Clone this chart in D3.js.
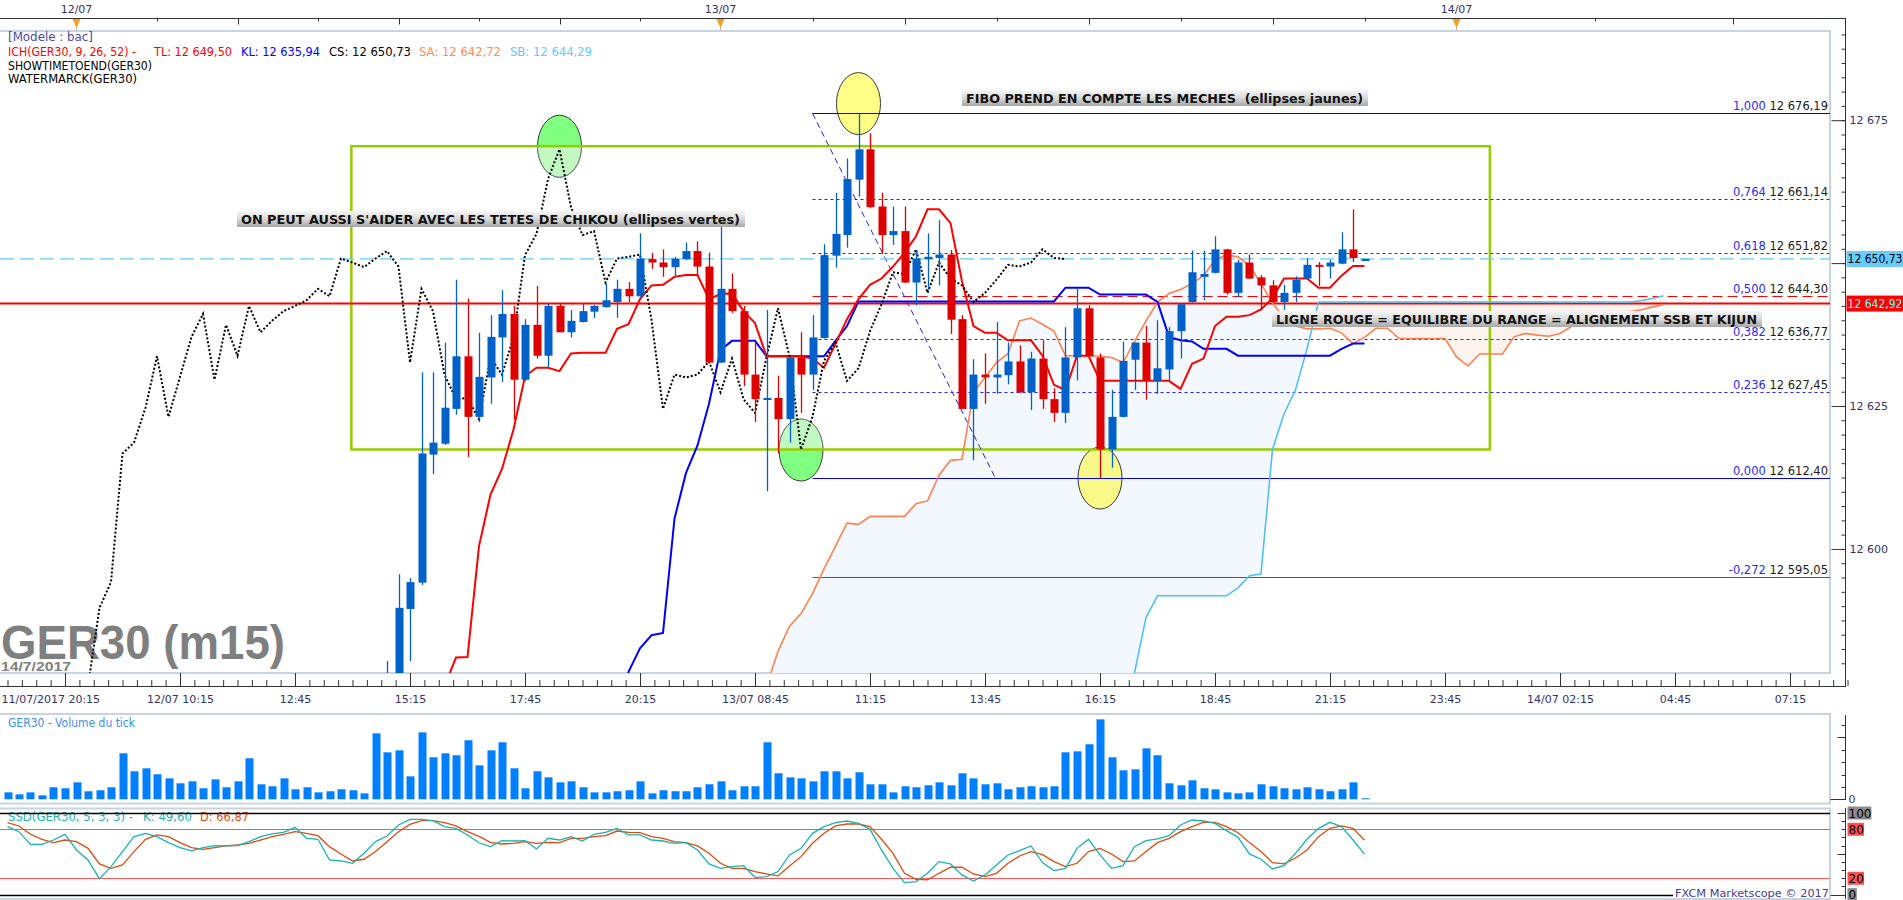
<!DOCTYPE html>
<html>
<head>
<meta charset="utf-8">
<title>GER30 (m15)</title>
<script src="https://cdnjs.cloudflare.com/ajax/libs/d3/7.8.5/d3.min.js"></script>
<style>
  body { margin: 0; background: #fff; overflow: hidden; }
  svg { display: block; font-family: "DejaVu Sans", Verdana, sans-serif; }
</style>
</head>
<body>
<div id="chart"></div>
<script>
// values (15 min bars, bar 0 = 11/07 20:15)

// candles, first one is bar 28 (earlier ones sit below the visible price range)
var firstCandle = 28;
var opens = [
  12562, 12575, 12589.5, 12594.1, 12616.5, 12618.4, 12624.5, 12633.7, 12623.1, 12630.0,
  12637.0, 12641.1, 12629.6, 12639.2, 12633.8, 12642.5, 12637.9, 12639.7, 12641.5, 12642.3,
  12643.2, 12645.5, 12644.2, 12650.7, 12650.1, 12649.3, 12650.7, 12652.1, 12649.4, 12632.6,
  12645.5, 12641.6, 12630.5, 12626.2, 12626.4, 12622.7, 12633.5, 12630.5, 12636.9, 12651.3,
  12654.9, 12664.6, 12669.9, 12659.9, 12654.9, 12655.6, 12646.6, 12650.7, 12650.9, 12651.5,
  12640.2, 12624.5, 12630.5, 12630.0, 12630.4, 12632.8, 12627.4, 12633.3, 12626.2, 12623.8,
  12633.5, 12642.1, 12633.5, 12617.4, 12623.1, 12633.1, 12636.1, 12629.4, 12631.4, 12638.1,
  12643.2, 12647.6, 12648.3, 12652.4, 12644.8, 12650.1, 12647.5, 12646.1, 12643.2, 12644.8,
  12647.3, 12649.7, 12649.4, 12649.9, 12652.4, 12650.73
];
var highs = [
  12580.4, 12595.6, 12594.9, 12630.9, 12630.9, 12636.1, 12647.1, 12643.8, 12637.8, 12640.9,
  12645.3, 12642.5, 12640.2, 12646.0, 12643.0, 12643.0, 12641.8, 12643.0, 12642.7, 12646.4,
  12647.1, 12646.7, 12655.2, 12651.8, 12652.4, 12651.1, 12653.6, 12653.8, 12651.8, 12656.3,
  12648.2, 12642.5, 12636.1, 12641.8, 12630.3, 12633.5, 12637.9, 12640.9, 12653.3, 12662.3,
  12668.3, 12676.19, 12672.7, 12662.3, 12659.9, 12659.9, 12652.3, 12655.2, 12657.5, 12652.3,
  12640.9, 12633.2, 12634.2, 12639.7, 12636.1, 12635.6, 12634.5, 12636.5, 12628.1, 12638.8,
  12645.5, 12642.6, 12634.2, 12627.8, 12636.3, 12636.1, 12639.0, 12640.0, 12638.8, 12642.8,
  12652.2, 12652.2, 12654.7, 12652.5, 12650.6, 12651.5, 12647.9, 12647.0, 12646.2, 12647.7,
  12650.8, 12650.2, 12650.6, 12655.4, 12659.4, 12650.73
];
var lows = [
  12558, 12572, 12580.4, 12593.7, 12613.1, 12618.2, 12623.5, 12616.1, 12622.2, 12625.4,
  12629.2, 12622.6, 12629.4, 12633.3, 12631.7, 12637.9, 12637.0, 12639.6, 12640.4, 12642.2,
  12640.4, 12643.2, 12644.1, 12649.0, 12647.6, 12647.8, 12650.5, 12647.8, 12632.4, 12632.5,
  12641.3, 12628.5, 12622.2, 12610.1, 12616.7, 12618.6, 12623.8, 12627.8, 12636.8, 12649.2,
  12652.7, 12661.6, 12659.6, 12651.6, 12653.2, 12646.5, 12642.6, 12645.3, 12646.1, 12637.6,
  12624.5, 12615.5, 12625.4, 12627.1, 12628.8, 12627.3, 12624.3, 12624.5, 12622.2, 12622.0,
  12629.5, 12633.7, 12612.4, 12614.2, 12623.0, 12627.8, 12626.1, 12627.1, 12629.4, 12633.3,
  12643.1, 12643.5, 12648.2, 12644.5, 12644.0, 12647.2, 12641.8, 12643.0, 12641.8, 12643.2,
  12647.2, 12646.0, 12647.3, 12649.8, 12650.2, 12650.73
];
var closes = [
  12576, 12589.7, 12594.2, 12616.7, 12618.6, 12624.7, 12633.7, 12623.1, 12630.1, 12637.1,
  12641.1, 12629.6, 12639.2, 12633.8, 12642.5, 12637.9, 12639.9, 12641.6, 12642.5, 12643.5,
  12645.5, 12644.2, 12650.8, 12650.1, 12649.3, 12650.8, 12652.1, 12649.4, 12632.6, 12645.5,
  12641.6, 12630.5, 12626.2, 12626.4, 12622.7, 12633.5, 12630.5, 12637.0, 12651.4, 12655.1,
  12664.7, 12669.9, 12659.8, 12654.9, 12655.6, 12646.6, 12650.8, 12651.1, 12651.5, 12640.1,
  12624.5, 12630.5, 12630.0, 12630.5, 12632.8, 12627.4, 12633.3, 12626.2, 12623.8, 12633.5,
  12642.1, 12633.7, 12617.4, 12623.1, 12632.9, 12636.1, 12629.4, 12631.6, 12638.1, 12642.8,
  12648.4, 12648.1, 12652.4, 12644.8, 12650.1, 12647.3, 12646.1, 12643.2, 12644.8, 12647.1,
  12649.7, 12649.4, 12650.1, 12652.4, 12650.9, 12650.73
];

// ichimoku lines
var tenkanStart = 32;
var tenkan = [
  12570, 12576, 12581.0, 12581.1, 12600.5, 12609.5, 12614.0, 12620.9, 12630.2, 12631.7,
  12631.7, 12631.1, 12634.2, 12634.3, 12634.3, 12634.3, 12638.5, 12639.3, 12643.7, 12646.1,
  12646.2, 12647.6, 12647.9, 12647.9, 12643.7, 12644.6, 12644.7, 12641.6, 12639.5, 12633.7,
  12633.7, 12633.7, 12633.7, 12633.3, 12631.7, 12635.9, 12640.2, 12643.7, 12646.2, 12647.3,
  12649.4, 12651.8, 12654.7, 12659.4, 12659.4, 12657.0, 12646.8, 12639.0, 12637.8, 12637.8,
  12636.5, 12636.5, 12636.5, 12633.8, 12628.7, 12627.8, 12633.8, 12633.8, 12629.4, 12629.4,
  12629.4, 12629.4, 12629.4, 12629.4, 12629.4, 12628.0, 12632.4, 12633.3, 12639.0, 12640.6,
  12640.6, 12640.9, 12641.9, 12643.9, 12647.3, 12647.3, 12647.3, 12645.7, 12645.7, 12647.8,
  12649.5, 12649.5
];
var kijunStart = 48;
var kijun = [
  12570, 12578.5, 12582.6, 12584.9, 12585.3, 12605.3, 12613.3, 12618.1, 12625.4, 12634.8,
  12636.4, 12636.4, 12636.4, 12633.7, 12633.7, 12633.7, 12633.7, 12633.7, 12633.7, 12636.4,
  12639.0, 12643.3, 12643.3, 12643.3, 12643.3, 12643.3, 12643.3, 12643.3, 12643.3, 12643.3,
  12643.3, 12643.3, 12643.3, 12643.3, 12643.3, 12643.3, 12643.3, 12643.3, 12643.3, 12645.7,
  12645.7, 12645.7, 12644.5, 12644.5, 12644.5, 12644.5, 12644.5, 12643.2, 12637.1, 12636.5,
  12636.3, 12635.0, 12635.0, 12635.0, 12633.8, 12633.8, 12633.8, 12633.8, 12633.8, 12633.8,
  12633.8, 12633.8, 12633.8, 12635.0, 12635.94, 12635.94
];
// senkou spans (already shifted 26 bars ahead), first value is bar 60
var cloudStart = 60;
var senkouA = [
  12570, 12576, 12582.1, 12586.5, 12588.7, 12592.2, 12596.5, 12600.5, 12604.5, 12604.3,
  12605.7, 12605.7, 12605.7, 12605.7, 12607.9, 12608.4, 12612.9, 12615.5, 12615.7, 12627.5,
  12630.0, 12632.6, 12634.2, 12639.9, 12640.4, 12639.3, 12638.1, 12633.8, 12633.8, 12633.8,
  12633.7, 12633.5, 12632.6, 12636.3, 12639.9, 12643.2, 12644.7, 12645.4, 12646.4, 12647.8,
  12650.6, 12651.4, 12651.1, 12649.6, 12646.4, 12643.0, 12640.5, 12639.0, 12638.5, 12638.5,
  12638.6, 12637.8, 12635.9, 12637.0, 12638.6, 12638.6, 12636.8, 12636.8, 12636.8, 12636.8,
  12636.8, 12633.6, 12632.0, 12634.1, 12634.1, 12634.1, 12637.1, 12637.7, 12637.4, 12637.2,
  12637.7, 12638.9, 12639.5, 12640.0, 12640.5, 12641.0, 12641.5, 12641.8, 12642.3, 12642.72
];
var senkouB = [
  12555, 12555, 12555, 12555, 12555, 12555, 12555, 12555, 12555, 12555,
  12555, 12555, 12555, 12555, 12555, 12555, 12555, 12555, 12555, 12555,
  12555, 12555, 12555, 12555, 12555, 12555, 12555, 12555, 12555, 12555,
  12558, 12560, 12566, 12578.3, 12588.0, 12591.8, 12591.8, 12591.8, 12591.8, 12591.8,
  12591.8, 12591.8, 12593.2, 12595.3, 12595.6, 12617.4, 12623.6, 12627.8, 12635.0, 12643.2,
  12643.2, 12643.2, 12643.2, 12643.2, 12643.2, 12643.2, 12643.2, 12643.2, 12643.2, 12643.2,
  12643.2, 12643.2, 12643.2, 12643.2, 12643.2, 12643.2, 12643.2, 12643.2, 12643.2, 12643.2,
  12643.2, 12643.2, 12643.2, 12643.2, 12643.2, 12643.2, 12643.2, 12643.4, 12643.8, 12644.29
];

// tick volume and slow stochastic, first value is bar -5
var firstBar = -5;
var volumes = [
  56, 40, 56, 32, 97, 89, 137, 65, 73, 97,
  371, 226, 250, 202, 169, 129, 145, 89, 161, 97,
  145, 331, 121, 105, 169, 81, 97, 56, 65, 81,
  73, 48, 532, 379, 395, 185, 540, 339, 371, 355,
  476, 274, 395, 460, 250, 89, 226, 177, 137, 145,
  97, 56, 56, 65, 73, 145, 48, 73, 65, 65,
  97, 121, 145, 73, 105, 105, 460, 210, 177, 169,
  145, 226, 226, 169, 218, 121, 121, 56, 105, 97,
  113, 137, 113, 210, 169, 121, 129, 81, 97, 105,
  97, 105, 379, 387, 444, 645, 339, 234, 242, 411,
  355, 129, 113, 153, 89, 81, 56, 48, 56, 121,
  105, 89, 81, 97, 81, 65, 81, 137, 3
];
var stochK = [
  83.3, 77.1, 61.6, 61.6, 66.9, 73.9, 54.7, 42.4, 19.2, 34.3,
  52.7, 71.0, 75.1, 71.0, 63.7, 57.6, 53.5, 57.6, 60.0, 59.6,
  60.0, 64.9, 71.0, 74.3, 76.3, 82.4, 69.0, 67.8, 42.4, 41.2,
  38.4, 50.6, 64.9, 71.8, 85.3, 92.2, 92.2, 90.6, 83.3, 81.2,
  73.1, 63.5, 58.8, 66.1, 65.7, 66.1, 55.9, 69.0, 66.9, 71.0,
  65.7, 73.9, 76.3, 81.2, 73.1, 73.1, 66.9, 65.7, 62.9, 63.7,
  54.7, 37.6, 32.2, 34.3, 35.5, 21.2, 22.0, 28.2, 48.6, 56.7,
  75.1, 83.3, 88.2, 90.2, 87.3, 80.0, 54.7, 32.2, 14.7, 15.9,
  26.1, 40.4, 37.6, 24.1, 16.7, 24.1, 36.3, 48.6, 53.9, 59.6,
  39.2, 29.4, 32.2, 56.7, 67.8, 48.6, 32.2, 35.5, 58.8, 66.1,
  68.2, 72.2, 85.3, 91.4, 90.2, 87.3, 78.4, 70.2, 49.8, 43.3,
  31.4, 35.5, 50.6, 67.8, 81.2, 88.6, 83.3, 66.9, 49.6
];
var stochD = [
  88.2, 84.1, 73.9, 67.8, 63.7, 66.9, 64.9, 56.7, 37.6, 32.2,
  36.3, 52.7, 67.8, 73.1, 71.0, 63.7, 57.6, 55.5, 57.6, 59.6,
  60.8, 62.9, 66.9, 71.0, 73.9, 77.1, 75.1, 72.2, 58.8, 49.8,
  41.2, 43.3, 52.7, 64.9, 77.1, 86.1, 90.6, 90.6, 88.2, 84.1,
  77.1, 71.4, 64.1, 62.0, 62.9, 64.9, 62.9, 64.1, 63.7, 69.0,
  69.0, 71.0, 72.2, 77.9, 76.3, 75.9, 71.0, 69.0, 64.9, 63.7,
  59.6, 50.6, 38.4, 32.2, 32.2, 28.2, 25.3, 22.9, 35.1, 46.5,
  62.9, 75.1, 84.1, 86.5, 86.5, 83.3, 67.8, 50.6, 26.1, 18.8,
  18.0, 26.1, 33.5, 33.5, 25.3, 22.0, 26.1, 38.4, 47.3, 52.7,
  49.0, 40.4, 34.3, 38.4, 52.7, 56.7, 49.8, 40.4, 41.2, 52.7,
  63.7, 69.0, 77.1, 83.3, 88.6, 88.6, 83.3, 75.9, 63.7, 52.7,
  39.2, 37.6, 44.9, 54.7, 71.0, 81.2, 84.1, 81.2, 66.87
];

// fibonacci retracement drawn on the chart
var fibRatios = ["1,000", "0,764", "0,618", "0,500", "0,382", "0,236", "0,000", "-0,272"];
var fibPrices = [12676.19, 12661.14, 12651.82, 12644.30, 12636.77, 12627.45, 12612.40, 12595.05];
var rangeLine = 12642.92;

// time axis
var timeLabels = ["11/07/2017 20:15", "12/07 10:15", "12:45", "15:15", "17:45", "20:15", "13/07 08:45",
  "11:15", "13:45", "16:15", "18:45", "21:15", "23:45", "14/07 02:15", "04:45", "07:15"];
var timeLabelBars = [0, 10, 20, 30, 40, 50, 60, 70, 80, 90, 100, 110, 120, 130, 140, 150];
var dayLabels = ["12/07", "13/07", "14/07"];
var dayBars = [1, 57, 121];
var topTickBars = [8, 15, 22, 29, 36, 43, 50, 65, 73, 81, 89, 97, 105, 113, 133, 145];
var priceMajor = [12600, 12625, 12650, 12675];

// ---------------- layout ----------------
var W = 1903, H = 900;
var plotRight = 1830, axisX = 1845.5;
var mainTop = 31, mainBottom = 673;

var fr = d3.formatLocale({decimal: ",", thousands: " ", grouping: [3], currency: ["", ""]});
var fmt2 = fr.format(",.2f"), fmt0 = fr.format(",.0f");
var last = function(a) { return a[a.length - 1]; };

var svg = d3.select("#chart").append("svg")
    .attr("width", W)
    .attr("height", H);

var x = d3.scaleLinear().domain([0, 150]).range([65, 1790]);
var y = d3.scaleLinear().domain([12578.3, 12690.6]).range([mainBottom, mainTop]);
var yVol = d3.scaleLinear().domain([0, 680]).range([799.3, 715]);
var ySto = d3.scaleLinear().domain([0, 100]).range([894.6, 813]);

var defs = svg.append("defs");
defs.append("clipPath").attr("id", "clipMain").append("rect")
  .attr("x", 0).attr("y", mainTop).attr("width", plotRight).attr("height", mainBottom - mainTop);
// the green range box, in bars / prices
var box = {i0: 24.9, i1: 123.9, p0: 12617.4, p1: 12670.45};
defs.append("clipPath").attr("id", "clipBox").append("rect")
  .attr("x", x(box.i0)).attr("y", y(box.p1))
  .attr("width", x(box.i1) - x(box.i0)).attr("height", y(box.p0) - y(box.p1));
var grad = defs.append("linearGradient").attr("id", "noteBg")
  .attr("x1", 0).attr("y1", 0).attr("x2", 0).attr("y2", 1);
grad.append("stop").attr("offset", "0%").attr("stop-color", "#f6f6f6");
grad.append("stop").attr("offset", "50%").attr("stop-color", "#d9d9d9");
grad.append("stop").attr("offset", "100%").attr("stop-color", "#a6a6a6");

// small helper for fitted labels
function label(g, tx, ty, str, size, color, len) {
  var t = g.append("text").attr("x", tx).attr("y", ty)
    .attr("font-size", size).attr("fill", color).text(str);
  if (len) t.attr("textLength", len).attr("lengthAdjust", "spacingAndGlyphs");
  return t;
}

// panel frames
function frame(y0, y1) {
  svg.append("rect")
    .attr("x", -2).attr("y", y0)
    .attr("width", plotRight + 2).attr("height", y1 - y0)
    .attr("fill", "none").attr("stroke", "#c9d3df").attr("stroke-width", 2);
}
frame(mainTop, mainBottom);
frame(714, 803.5);
frame(808.5, 899);

var gMain = svg.append("g").attr("clip-path", "url(#clipMain)");

// watermark
gMain.append("text").attr("x", 1).attr("y", 659)
  .attr("font-family", "'Liberation Sans', Arial, sans-serif").attr("font-weight", "bold")
  .attr("font-size", 48).attr("fill", "#7f7f7f")
  .attr("textLength", 284).attr("lengthAdjust", "spacingAndGlyphs")
  .text("GER30 (m15)");
gMain.append("text").attr("x", 1).attr("y", 671)
  .attr("font-family", "'Liberation Sans', Arial, sans-serif").attr("font-weight", "bold")
  .attr("font-size", 13).attr("fill", "#7f7f7f")
  .attr("textLength", 70).attr("lengthAdjust", "spacingAndGlyphs")
  .text("14/7/2017");

// kumo
var cloud = senkouA.map(function(a, k) { return {i: cloudStart + k, a: a, b: senkouB[k]}; });
gMain.append("path").datum(cloud)
  .attr("fill", "#f2f8fd")
  .attr("d", d3.area()
    .x(function(d) { return x(d.i); })
    .y0(function(d) { return y(d.b); })
    .y1(function(d) { return y(Math.max(d.a, d.b)); }));
gMain.append("path").datum(cloud)
  .attr("fill", "#fdf3ee")
  .attr("d", d3.area()
    .x(function(d) { return x(d.i); })
    .y0(function(d) { return y(d.a); })
    .y1(function(d) { return y(Math.max(d.a, d.b)); }));

// ellipses (chikou heads in green, fibo wicks in yellow)
var ellipses = [
  {i: 43, p: 12670.45, fill: "#80ff80"},
  {i: 64, p: 12617.3, fill: "#80ff80"},
  {i: 69, p: 12677.9, fill: "#ffff85"},
  {i: 90, p: 12612.4, fill: "#f8f888"}
];
gMain.selectAll(".ell").data(ellipses).enter().append("ellipse")
  .attr("cx", function(d) { return x(d.i); })
  .attr("cy", function(d) { return y(d.p); })
  .attr("rx", 22).attr("ry", 31)
  .attr("fill", function(d) { return d.fill; })
  .attr("stroke", "#3a3a3a").attr("stroke-width", 1);
gMain.append("g").attr("clip-path", "url(#clipBox)")
  .selectAll("ellipse").data(ellipses.slice(0, 2)).enter().append("ellipse")
  .attr("cx", function(d) { return x(d.i); })
  .attr("cy", function(d) { return y(d.p); })
  .attr("rx", 22).attr("ry", 31)
  .attr("fill", "#c2f8c2")
  .attr("stroke", "#777").attr("stroke-width", 1);

// the range box
gMain.append("rect")
  .attr("x", x(box.i0)).attr("y", y(box.p1))
  .attr("width", x(box.i1) - x(box.i0)).attr("height", y(box.p0) - y(box.p1))
  .attr("fill", "none").attr("stroke", "#99cc00").attr("stroke-width", 2.5);

// fibonacci levels
var fibStyle = [
  {c: "#0000dd", dash: null}, {c: "#2222ee", dash: "3,3"}, {c: "#2222ee", dash: "3,3"},
  {c: "#ff0000", dash: "10,5"}, {c: "#2222ee", dash: "3,3"}, {c: "#2222ee", dash: "3,3"},
  {c: "#0000dd", dash: null}, {c: "#a0400a", dash: null}
];
var fibFrom = 65;
fibPrices.forEach(function(p, k) {
  gMain.append("line")
    .attr("x1", x(fibFrom)).attr("x2", plotRight)
    .attr("y1", Math.round(y(p)) + 0.5).attr("y2", Math.round(y(p)) + 0.5)
    .attr("stroke", fibStyle[k].c).attr("stroke-width", 1)
    .attr("stroke-dasharray", fibStyle[k].dash);
  var t = gMain.append("text")
    .attr("x", plotRight - 2).attr("y", y(p) - 3)
    .attr("text-anchor", "end").attr("font-size", 11.5);
  t.append("tspan").attr("fill", "#2a2af0").text(fibRatios[k] + " ");
  t.append("tspan").attr("fill", "#1a1a1a").text(fmt2(p));
});
// fibo swing, high wick to low wick
gMain.append("line")
  .attr("x1", x(fibFrom)).attr("y1", y(fibPrices[0]))
  .attr("x2", x(80.9)).attr("y2", y(fibPrices[6]))
  .attr("stroke", "#2222ee").attr("stroke-width", 1).attr("stroke-dasharray", "6,4");

// current price and range line
gMain.append("line")
  .attr("x1", 0).attr("x2", plotRight)
  .attr("y1", y(last(closes))).attr("y2", y(last(closes)))
  .attr("stroke", "#66ccff").attr("stroke-width", 1.2).attr("stroke-dasharray", "14,6");
gMain.append("line")
  .attr("x1", 0).attr("x2", plotRight)
  .attr("y1", y(rangeLine)).attr("y2", y(rangeLine))
  .attr("stroke", "#ff0000").attr("stroke-width", 2);

// ichimoku lines
function seriesLine(values, start) {
  return d3.line()
    .x(function(d, k) { return x(start + k); })
    .y(function(d) { return y(d); })(values);
}
gMain.append("path").attr("d", seriesLine(senkouA, cloudStart))
  .attr("fill", "none").attr("stroke", "#ff8050").attr("stroke-width", 1.6);
gMain.append("path").attr("d", seriesLine(senkouB, cloudStart))
  .attr("fill", "none").attr("stroke", "#50c0f5").attr("stroke-width", 1.6);
gMain.append("path").attr("d", seriesLine(kijun, kijunStart))
  .attr("fill", "none").attr("stroke", "#0000ff").attr("stroke-width", 2);
gMain.append("path").attr("d", seriesLine(tenkan, tenkanStart))
  .attr("fill", "none").attr("stroke", "#ff0000").attr("stroke-width", 2);
// chikou = close drawn 26 bars back
gMain.append("path").attr("d", seriesLine(closes, firstCandle - 26))
  .attr("fill", "none").attr("stroke", "#000").attr("stroke-width", 2)
  .attr("stroke-dasharray", "2,2");

// candles
var candles = opens.map(function(o, k) {
  return {i: firstCandle + k, o: o, h: highs[k], l: lows[k], c: closes[k]};
});
var candleColor = function(d) { return d.c >= d.o ? "#0062c8" : "#dc0000"; };
var cg = gMain.selectAll(".candle").data(candles).enter().append("g");
cg.append("line")
  .attr("x1", function(d) { return Math.round(x(d.i)) + 0.5; })
  .attr("x2", function(d) { return Math.round(x(d.i)) + 0.5; })
  .attr("y1", function(d) { return y(d.h); })
  .attr("y2", function(d) { return y(d.l); })
  .attr("stroke", candleColor).attr("stroke-width", 1.3);
cg.append("rect")
  .attr("x", function(d) { return Math.round(x(d.i)) - 3.5; })
  .attr("width", 8)
  .attr("y", function(d) { return y(Math.max(d.o, d.c)); })
  .attr("height", function(d) { return Math.max(2, Math.abs(y(d.o) - y(d.c))); })
  .attr("fill", candleColor);

// comment boxes
var notes = [
  {t: "ON PEUT AUSSI S'AIDER AVEC LES TETES DE CHIKOU (ellipses vertes)", x: 237, y: 211, w: 508},
  {t: "FIBO PREND EN COMPTE LES MECHES  (ellipses jaunes)", x: 962, y: 90, w: 406},
  {t: "LIGNE ROUGE = EQUILIBRE DU RANGE = ALIGNEMENT SSB ET KIJUN", x: 1272, y: 311, w: 490}
];
notes.forEach(function(n) {
  gMain.append("rect").attr("x", n.x).attr("y", n.y).attr("width", n.w).attr("height", 16)
    .attr("fill", "url(#noteBg)");
  gMain.append("text").attr("x", n.x + 4).attr("y", n.y + 12.5)
    .attr("font-weight", "bold").attr("font-size", 12).attr("fill", "#111")
    .attr("textLength", n.w - 9).attr("lengthAdjust", "spacingAndGlyphs")
    .style("white-space", "pre")
    .text(n.t);
});

// legend, top left
var legend = svg.append("g");
label(legend, 8, 40.5, "[Modele : bac]", 12, "#4a4aa2", 85);
label(legend, 8, 56, "ICH(GER30, 9, 26, 52) -", 12, "#ff0000", 128);
label(legend, 154, 56, "TL: " + fmt2(last(tenkan)), 12, "#ff0000", 78);
label(legend, 241, 56, "KL: " + fmt2(last(kijun)), 12, "#0000ff", 79);
label(legend, 329, 56, "CS: " + fmt2(last(closes)), 12, "#000", 82);
label(legend, 419, 56, "SA: " + fmt2(last(senkouA)), 12, "#ff8c5a", 82);
label(legend, 510, 56, "SB: " + fmt2(last(senkouB)), 12, "#66c8ff", 82);
label(legend, 8, 69.5, "SHOWTIMETOEND(GER30)", 12, "#000", 144);
label(legend, 8, 83, "WATERMARCK(GER30)", 12, "#000", 129);

// top date strip
svg.append("line").attr("x1", 0).attr("x2", axisX).attr("y1", 18.5).attr("y2", 18.5)
  .attr("stroke", "#333").attr("stroke-width", 1);
var longTop = [15, 29, 43, 73, 89, 105, 145];
svg.selectAll(".ttick").data(topTickBars).enter().append("line")
  .attr("x1", function(d) { return Math.round(x(d)) + 0.5; })
  .attr("x2", function(d) { return Math.round(x(d)) + 0.5; })
  .attr("y1", 18.5)
  .attr("y2", function(d) { return longTop.indexOf(d) >= 0 ? 24.5 : 21.5; })
  .attr("stroke", "#333");
dayBars.forEach(function(b, k) {
  var cx = x(b);
  svg.append("line").attr("x1", cx).attr("x2", cx).attr("y1", 19).attr("y2", 31)
    .attr("stroke", "#bbb").attr("stroke-width", 1);
  svg.append("path")
    .attr("d", "M" + (cx - 4) + ",19L" + (cx + 4) + ",19L" + cx + ",28Z")
    .attr("fill", "#f5a020");
  svg.append("text").attr("x", cx).attr("y", 13).attr("text-anchor", "middle")
    .attr("font-size", 11).attr("fill", "#333366").text(dayLabels[k]);
});

// bottom time axis
var xAxis = svg.append("g").attr("transform", "translate(0,686)")
  .call(d3.axisBottom(x)
    .tickValues(timeLabelBars)
    .tickSizeInner(-13).tickSizeOuter(0).tickPadding(9)
    .tickFormat(function(d, k) { return timeLabels[k]; }));
xAxis.select(".domain").remove();
xAxis.selectAll("text").attr("font-size", 11).attr("font-family", "'DejaVu Sans', Verdana, sans-serif")
  .attr("fill", "#333366");
xAxis.select(".tick text").attr("text-anchor", "start").attr("x", 1 - x(0));
xAxis.selectAll("line").attr("stroke", "#333");
var xMinor = svg.append("g").attr("transform", "translate(0,686)")
  .call(d3.axisBottom(x).tickValues(d3.range(-5, 156, 1.25)).tickSize(-6).tickFormat(""));
xMinor.select(".domain").remove();
xMinor.selectAll("line").attr("stroke", "#333");
svg.append("line").attr("x1", 0).attr("x2", axisX).attr("y1", 686.5).attr("y2", 686.5)
  .attr("stroke", "#333");

// right price axis
svg.append("line").attr("x1", axisX).attr("x2", axisX).attr("y1", 18).attr("y2", 687)
  .attr("stroke", "#333");
var yMinor = svg.append("g").attr("transform", "translate(" + axisX + ",0)")
  .call(d3.axisRight(y).tickValues(d3.range(12580, 12690.1, 2.5)).tickSize(-4).tickFormat(""));
yMinor.select(".domain").remove();
yMinor.selectAll("line").attr("stroke", "#333");
var yAxis = svg.append("g").attr("transform", "translate(" + axisX + ",0)")
  .call(d3.axisRight(y).tickValues(priceMajor).tickSizeInner(-14).tickSizeOuter(0)
    .tickPadding(4).tickFormat(fmt0));
yAxis.select(".domain").remove();
yAxis.selectAll("line").attr("stroke", "#333");
yAxis.selectAll("text").attr("font-size", 11).attr("font-family", "'DejaVu Sans', Verdana, sans-serif")
  .attr("fill", "#333366");

// price tags on the axis
[{p: last(closes), bg: "#66ccff", fg: "#000"}, {p: rangeLine, bg: "#ff0000", fg: "#66ffff"}]
  .forEach(function(t) {
    svg.append("rect").attr("x", axisX + 1).attr("y", y(t.p) - 8).attr("width", W - axisX)
      .attr("height", 16).attr("fill", t.bg);
    label(svg, axisX + 2, y(t.p) + 4.5, fmt2(t.p), 11.5, t.fg, 55);
  });

// ---------------- volume panel ----------------
label(svg, 8, 727, "GER30 - Volume du tick", 12, "#3a8ef0", 127);
svg.selectAll(".vol").data(volumes).enter().append("rect")
  .attr("x", function(d, k) { return Math.round(x(firstBar + k)) - 3.5; })
  .attr("width", 8)
  .attr("y", function(d) { return Math.min(yVol(d), 798.3); })
  .attr("height", function(d) { return Math.max(1, 799.3 - yVol(d)); })
  .attr("fill", "#0080ff");
svg.append("line").attr("x1", axisX).attr("x2", axisX).attr("y1", 715).attr("y2", 800)
  .attr("stroke", "#333");
svg.selectAll(".vtick").data(d3.range(0, 601, 100)).enter().append("line")
  .attr("x1", function(d) { return d === 0 ? axisX - 15 : (d % 500 === 0 ? axisX - 8 : axisX - 4); })
  .attr("x2", axisX)
  .attr("y1", function(d) { return Math.round(yVol(d)) + 0.5; })
  .attr("y2", function(d) { return Math.round(yVol(d)) + 0.5; })
  .attr("stroke", "#333");
label(svg, axisX + 3, yVol(0) + 4, "0", 11, "#333366");

// ---------------- stochastic panel ----------------
label(svg, 8, 821, "SSD(GER30, 5, 3, 3) -", 12, "#22b4b4", 125);
label(svg, 143, 821, "K: " + fmt2(last(stochK)), 12, "#22b4b4", 49);
label(svg, 200, 821, "D: " + fmt2(last(stochD)), 12, "#ee4a10", 49);
[100, 0].forEach(function(v) {
  svg.append("line").attr("x1", 0).attr("x2", v === 0 ? 1673 : plotRight)
    .attr("y1", Math.round(ySto(v)) + 0.5).attr("y2", Math.round(ySto(v)) + 0.5)
    .attr("stroke", "#000").attr("stroke-width", 1.4);
});
[80, 20].forEach(function(v) {
  svg.append("line").attr("x1", 0).attr("x2", plotRight)
    .attr("y1", Math.round(ySto(v)) + 0.5).attr("y2", Math.round(ySto(v)) + 0.5)
    .attr("stroke", "#ff5555").attr("stroke-width", 1);
});
var stoLine = d3.line()
  .x(function(d, k) { return x(firstBar + k); })
  .y(function(d) { return ySto(d); });
svg.append("path").attr("d", stoLine(stochD))
  .attr("fill", "none").attr("stroke", "#e04a10").attr("stroke-width", 1.3);
svg.append("path").attr("d", stoLine(stochK))
  .attr("fill", "none").attr("stroke", "#1ab2b2").attr("stroke-width", 1.3);
label(svg, 1675, 897, "FXCM Marketscope \u00a9 2017", 11, "#4b3c8c", 154);

svg.append("line").attr("x1", axisX).attr("x2", axisX).attr("y1", 808).attr("y2", 899)
  .attr("stroke", "#333");
svg.selectAll(".stick").data(d3.range(0, 101, 10)).enter().append("line")
  .attr("x1", function(d) { return d === 0 ? axisX - 15 : (d % 50 === 0 ? axisX - 8 : axisX - 4); })
  .attr("x2", axisX)
  .attr("y1", function(d) { return Math.round(ySto(d)) + 0.5; })
  .attr("y2", function(d) { return Math.round(ySto(d)) + 0.5; })
  .attr("stroke", "#333");
[{v: 100, bg: "#8c8c8c"}, {v: 80, bg: "#ff5050"}, {v: 20, bg: "#ff5050"}, {v: 0, bg: "#8c8c8c"}]
  .forEach(function(t) {
    var w = String(t.v).length * 7.3 + 2;
    svg.append("rect").attr("x", axisX + 2).attr("y", ySto(t.v) - 6.5).attr("width", w).attr("height", 13)
      .attr("fill", t.bg);
    label(svg, axisX + 3, ySto(t.v) + 4.5, String(t.v), 12, "#000");
  });
</script>
</body>
</html>
